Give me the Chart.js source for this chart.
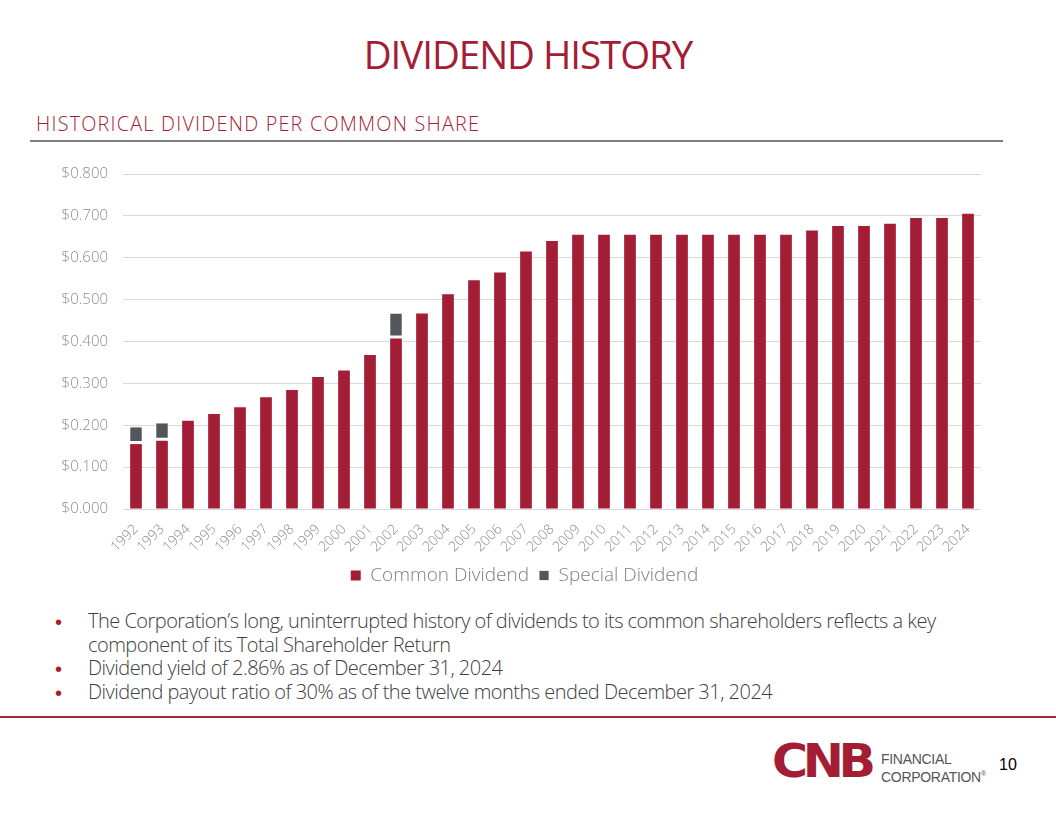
<!DOCTYPE html>
<html>
<head>
<meta charset="utf-8">
<script src="https://cdn.jsdelivr.net/npm/chart.js@4.4.1/dist/chart.umd.min.js"></script>
<style>
  html, body { margin:0; padding:0; background:#fff; }
  body { width:1056px; height:816px; position:relative; overflow:hidden; font-family:"Open Sans", sans-serif; }
  #title { position:absolute; left:0; width:1056px; top:28px; text-align:center; color:#A31D35; font-size:38.5px; font-weight:400; letter-spacing:-1.05px; }
  #sub { position:absolute; left:36px; top:110px; color:#A31D35; font-size:19.8px; font-weight:300; letter-spacing:1.22px; white-space:nowrap; }
  #rule1 { position:absolute; left:30px; width:973px; top:140px; height:2px; background:#7f7f7f; }
  #chartbox { position:absolute; left:0; top:150px; width:1056px; height:450px; }
  #bul { position:absolute; left:0; top:607px; width:1056px; color:#404040; font-size:20px; font-weight:300; letter-spacing:-0.52px; }
  .b { position:absolute; left:88px; white-space:nowrap; }
  .dot { position:absolute; left:55px; color:#A31D35; font-family:"Liberation Sans", sans-serif; font-size:20px; margin-top:4px; }
  #rule2 { position:absolute; left:0; width:1056px; top:716px; height:2px; background:#A02535; }
  #logo { position:absolute; left:772px; top:738px; color:#A31D35; font-family:"DejaVu Sans", sans-serif; font-weight:bold; font-size:46px; letter-spacing:-5px; transform:scaleX(1.07); transform-origin:left; line-height:46px; }
  #logotxt { position:absolute; left:881px; top:752px; color:#555; font-family:"Liberation Sans", sans-serif; font-size:14px; line-height:14.5px; letter-spacing:-0.3px; }
  #page { position:absolute; left:999px; top:756px; color:#000; font-family:"Liberation Sans", sans-serif; font-size:16px; }
</style>
</head>
<body>
<div id="title">DIVIDEND HISTORY</div>
<div id="sub">HISTORICAL DIVIDEND PER COMMON SHARE</div>
<div id="rule1"></div>
<div id="chartbox"><canvas id="c"></canvas></div>
<div id="bul">
  <span class="dot" style="top:0px">•</span><span class="b" style="top:0px">The Corporation’s long, uninterrupted history of dividends to its common shareholders reflects a key</span>
  <span class="b" style="top:23.5px">component of its Total Shareholder Return</span>
  <span class="dot" style="top:47px">•</span><span class="b" style="top:47px">Dividend yield of 2.86% as of December 31, 2024</span>
  <span class="dot" style="top:70.5px">•</span><span class="b" style="top:70.5px">Dividend payout ratio of 30% as of the twelve months ended December 31, 2024</span>
</div>
<div id="rule2"></div>
<div id="logo">CNB</div>
<div id="logotxt">FINANCIAL<br>CORPORATION<sup style="font-size:7px">®</sup></div>
<div id="page">10</div>
<script>
const years = ["1992","1993","1994","1995","1996","1997","1998","1999","2000","2001","2002","2003","2004","2005","2006","2007","2008","2009","2010","2011","2012","2013","2014","2015","2016","2017","2018","2019","2020","2021","2022","2023","2024"];
const commonDividend = [0.155,0.163,0.211,0.227,0.243,0.267,0.284,0.315,0.331,0.368,0.407,0.467,0.513,0.546,0.565,0.615,0.640,0.655,0.655,0.655,0.655,0.655,0.655,0.655,0.655,0.655,0.665,0.676,0.676,0.681,0.695,0.695,0.705];
const specialDividend = [0.040,0.042,null,null,null,null,null,null,null,null,0.060,null,null,null,null,null,null,null,null,null,null,null,null,null,null,null,null,null,null,null,null,null,null];
const yTicks = [0,0.1,0.2,0.3,0.4,0.5,0.6,0.7,0.8];

const RED = '#A31D35', GRAY = '#53565A';
const LEGEND_SHIFT = 34;
const legendShift = {
  id: 'legendShift',
  afterLayout(chart) {
    if (chart.legend) { chart.legend.left += LEGEND_SHIFT; chart.legend.right += LEGEND_SHIFT; }
  }
};
new Chart(document.getElementById('c'), {
  type: 'bar',
  plugins: [legendShift],
  data: {
    labels: years,
    datasets: [
      { label: 'Common Dividend', data: commonDividend, backgroundColor: RED, borderColor: RED, borderWidth: 0, barPercentage: 0.45, categoryPercentage: 1 },
      { label: 'Special Dividend', data: specialDividend, backgroundColor: GRAY, borderColor: '#ffffff', borderWidth: {top:0,left:0,right:0,bottom:3}, borderSkipped: false, barPercentage: 0.45, categoryPercentage: 1 }
    ]
  },
  options: {
    responsive: true,
    maintainAspectRatio: false,
    animation: false,
    layout: { padding: { left: 0, right: 75, top: 22, bottom: 5 } },
    plugins: {
      legend: {
        position: 'bottom',
        labels: { boxWidth: 10, boxHeight: 10, padding: 10, color: '#7f7f7f', font: { family: 'Open Sans', size: 19, weight: '300' } }
      },
      tooltip: { enabled: false }
    },
    scales: {
      x: {
        stacked: true,
        grid: { display: false },
        border: { display: false },
        ticks: { autoSkip: false, maxRotation: 45, minRotation: 45, padding: 4, color: '#8c8c8c', font: { family: 'Open Sans', size: 14, weight: '300' } },
        afterFit: (s) => { s.height = 47; }
      },
      y: {
        stacked: true,
        min: 0, max: 0.8,
        afterBuildTicks: (s) => { s.ticks = yTicks.map(v => ({ value: v })); },
        grid: { color: '#d9d9d9', lineWidth: 1, drawTicks: false },
        border: { display: false },
        ticks: { padding: 15, color: '#8c8c8c', font: { family: 'Open Sans', size: 15, weight: '300' }, callback: (v) => '$' + Number(v).toFixed(3) },
        afterFit: (s) => { s.width = 123; }
      }
    }
  }
});
</script>
</body>
</html>
